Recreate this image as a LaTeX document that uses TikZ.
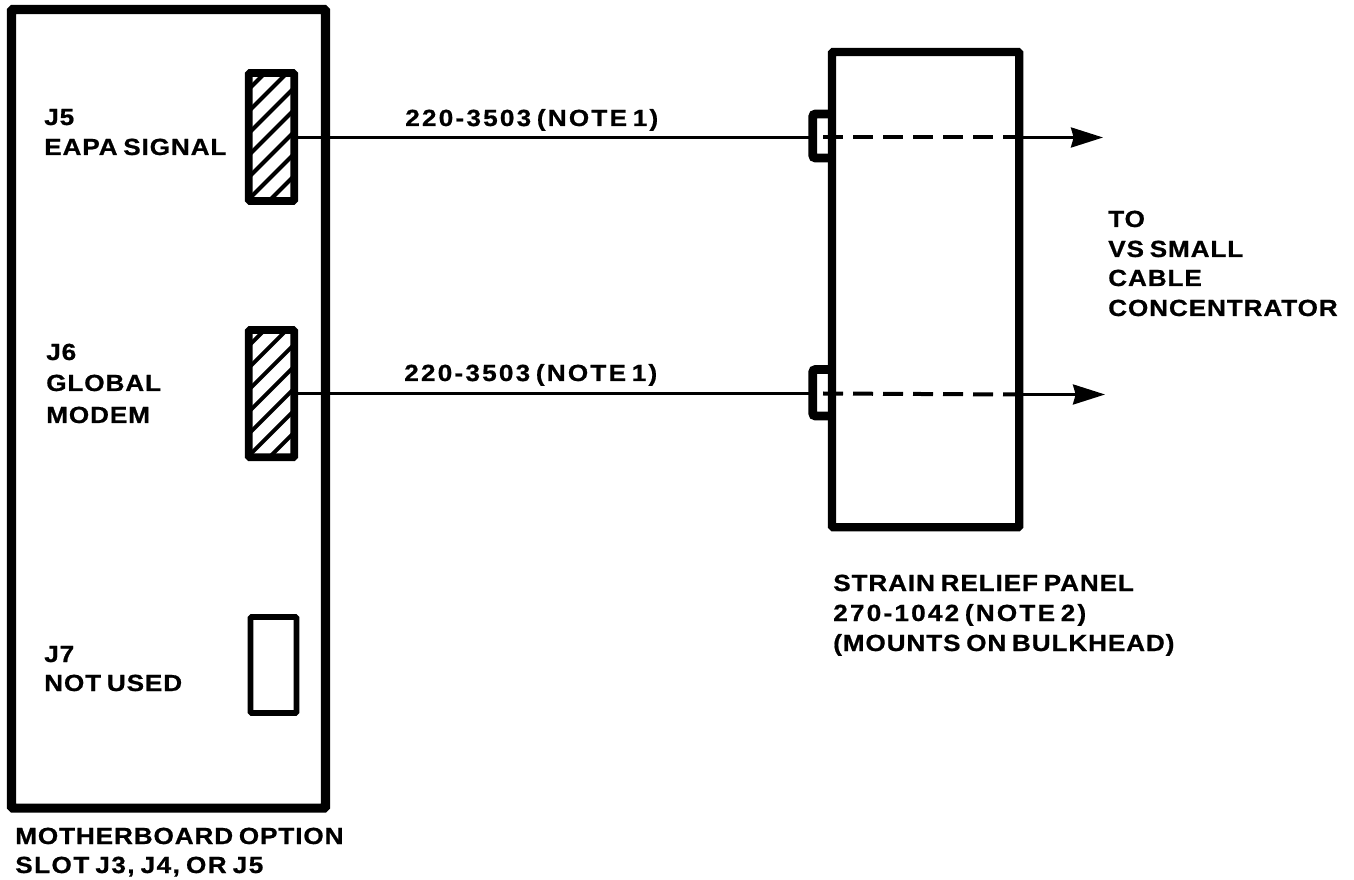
\documentclass[tikz,border=0pt]{standalone}
\usepackage{fontspec}
\setmainfont{Liberation Sans}
\newfontfamily\lblfont{Liberation Sans}[BoldFeatures={LetterSpace=3.8,WordSpace=0.7,FakeStretch=1.12,FakeBold=0.8}]
\newfontfamily\lblwide{Liberation Sans}[BoldFeatures={LetterSpace=9.5,WordSpace=0.6,FakeStretch=1.12,FakeBold=0.8}]
\newfontfamily\lblmid{Liberation Sans}[BoldFeatures={LetterSpace=6.2,WordSpace=0.7,FakeStretch=1.12,FakeBold=0.8}]
\usetikzlibrary{arrows.meta}
\tikzset{
  px/.style={x=0.75pt,y=-0.75pt},
  board/.style={draw=black,line width=6.8pt,rounded corners=1pt,fill=white,inner sep=0pt,outer sep=0pt},
  conn/.style={draw=black,line width=5.8pt,rounded corners=1pt,inner sep=0pt,outer sep=0pt},
  hatched/.style={conn,path picture={
    \foreach \k in {-9,...,9}{
      \draw[line width=3pt] ([xshift=-40pt,yshift=\k*16.5pt+3.4pt-40pt]path picture bounding box.center) -- ++(80pt,80pt);}
  }},
  lbl/.style={font=\lblfont\bfseries\fontsize{17.5}{17.5}\selectfont,anchor=base west,inner sep=0pt},
  lblw/.style={lbl,font=\lblwide\bfseries\fontsize{17.5}{17.5}\selectfont},
  lblm/.style={lbl,font=\lblmid\bfseries\fontsize{17.5}{17.5}\selectfont},
  wire/.style={line width=2.2pt},
  wired/.style={line width=3pt,dash pattern=on 15pt off 7.5pt},
  tip/.style={-{Stealth[length=24pt,width=15pt,inset=2pt]}},
  bracket/.style={line width=6.5pt,rounded corners=2pt}
}
\begin{document}
\begin{tikzpicture}[px]
\useasboundingbox (0,0) rectangle (1354,880);
\node[board,minimum width=235.5pt,minimum height=599pt,anchor=north west] (mb) at (11.5,9.5) {};
\node[board,line width=6.2pt,minimum width=140.5pt,minimum height=356.5pt,anchor=north west] (panel) at (832,52) {};
% strain-relief brackets
\coordinate (b1t) at (832,114); \coordinate (b1b) at (832,158);
\coordinate (b2t) at (832,369.5); \coordinate (b2b) at (832,416);
\draw[bracket] (b1t) -- (812.7,114) -- (812.7,158) -- (b1b);
\draw[bracket] (b2t) -- (812.7,369.5) -- (812.7,416) -- (b2b);
% connectors on board
\node[hatched,minimum width=34.2pt,minimum height=96pt,anchor=north west] (j5) at (248.7,73) {};
\node[hatched,minimum width=34.2pt,minimum height=95.5pt,anchor=north west] (j6) at (248.7,330) {};
\node[conn,line width=4.4pt,minimum width=34.5pt,minimum height=72pt,anchor=north west] (j7) at (250.5,617) {};
% cables
\coordinate (e1) at (1103,137.5);
\coordinate (e2) at (1105,394.5);
\coordinate (s1) at (823,137.5); \coordinate (s2) at (823,393.5);
\coordinate (d1) at (1018,137.5); \coordinate (d2) at (1018,394.5);
\draw[wire] (j5.east |- e1) -- (809,137.5);
\draw[wire] (j6.east |- s2) -- (809,393.5);
\draw[wired] (s1) -- (d1);
\draw[wired] (s2) -- (d2);
\draw[wire,tip] (d1) -- (e1);
\draw[wire,tip] (d2) -- (e2);
% labels
\node[lbl] (t1) at (44,125) {J5};
\node[lbl] (t2) at (44,155) {EAPA SIGNAL};
\node[lbl] (t3) at (46,360) {J6};
\node[lbl] (t4) at (46,391) {GLOBAL};
\node[lbl] (t5) at (46,423) {MODEM};
\node[lbl] (t6) at (44,662) {J7};
\node[lbl] (t7) at (44,691) {NOT USED};
\node[lbl] (t8) at (15,844) {MOTHERBOARD OPTION};
\node[lblm] (t9) at (15,873) {SLOT J3, J4, OR J5};
\node[lblw] (t10) at (405,126) {220-3503 (NOTE 1)};
\node[lblw] (t11) at (404,381) {220-3503 (NOTE 1)};
\node[lbl] (t12) at (1108,227) {TO};
\node[lbl] (t13) at (1108,257) {VS SMALL};
\node[lbl] (t14) at (1108,286) {CABLE};
\node[lbl] (t15) at (1108,316) {CONCENTRATOR};
\node[lbl] (t16) at (833,591) {STRAIN RELIEF PANEL};
\node[lblw] (t17) at (833,621) {270-1042 (NOTE 2)};
\node[lbl] (t18) at (833,651) {(MOUNTS ON BULKHEAD)};
\end{tikzpicture}
\end{document}
